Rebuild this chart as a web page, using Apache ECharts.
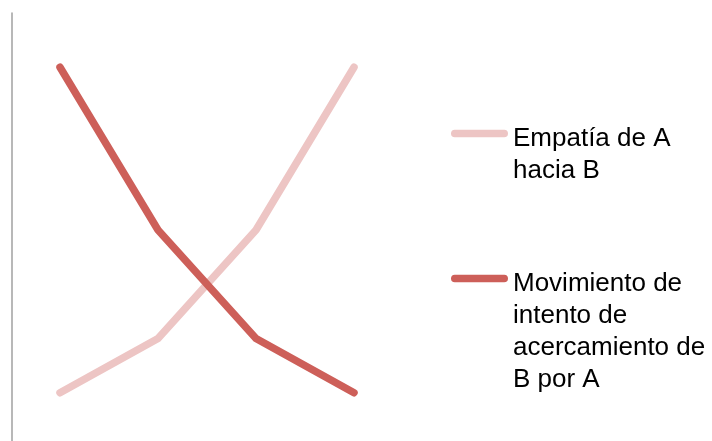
<!DOCTYPE html>
<html>
<head>
<meta charset="utf-8">
<script src="https://cdn.jsdelivr.net/npm/echarts@6/dist/echarts.min.js"></script>
<style>
  html, body { margin: 0; padding: 0; background: #fff; }
  #main { width: 712px; height: 441px; }
</style>
</head>
<body>
<div id="main"></div>
<script>
// datos
var categorias = ['1', '2', '3', '4'];
var empatia = [1, 2, 4, 7];
var movimiento = [7, 4, 2, 1];
var nombres = ['Empatía de A\nhacia B', 'Movimiento de\nintento de\nacercamiento de\nB por A'];

var colorClaro = '#EDC5C4';
var colorOscuro = '#CD5F59';
var lineH = 32;
var iconPath = 'path://M4,0H56A4,4,0,0,1,56,8H4A4,4,0,0,1,4,0Z';

// leyenda: una por serie, con una linea vacia arriba para que
// la primera linea del texto quede a la altura del icono
function leyenda(nombre, color, top) {
    var n = nombre.split('\n').length;
    var hueco = lineH * (n - 1) + 11;
    return {
        data: [nombre],
        orient: 'vertical',
        left: 451,
        top: top,
        padding: 0,
        itemWidth: 57,
        itemHeight: 8,
        icon: iconPath,
        selectedMode: false,
        itemStyle: { color: color, borderWidth: 0 },
        formatter: function (name) {
            return '{s| }\n' + name.split('\n').map(function (l) {
                return '{a|' + l + '}';
            }).join('\n');
        },
        textStyle: {
            rich: {
                s: { fontSize: 10, lineHeight: hueco },
                a: {
                    fontFamily: '"Liberation Sans", Arial, sans-serif',
                    fontSize: 26,
                    lineHeight: lineH,
                    color: '#000'
                }
            }
        }
    };
}

var chart = echarts.init(document.getElementById('main'));
chart.setOption({
    animation: false,
    backgroundColor: '#fff',
    grid: { left: 60, width: 294, top: 13, height: 434, outerBoundsMode: 'none', containLabel: false },
    legend: [
        leyenda(nombres[0], colorClaro, 96.5),
        leyenda(nombres[1], colorOscuro, 209.5)
    ],
    xAxis: {
        type: 'category',
        data: categorias,
        boundaryGap: false,
        show: false
    },
    yAxis: {
        type: 'value',
        min: 0,
        max: 8,
        offset: 48,
        axisLine: { show: true, lineStyle: { color: '#A0A0A0', width: 1.5 } },
        axisTick: { show: false },
        axisLabel: { show: false },
        splitLine: { show: false }
    },
    series: [{
        name: nombres[0],
        type: 'line',
        data: empatia,
        symbol: 'none',
        clip: false,
        itemStyle: { color: colorClaro },
        lineStyle: { color: colorClaro, width: 7.5, cap: 'round', join: 'round' }
    }, {
        name: nombres[1],
        type: 'line',
        data: movimiento,
        symbol: 'none',
        clip: false,
        itemStyle: { color: colorOscuro },
        lineStyle: { color: colorOscuro, width: 7.5, cap: 'round', join: 'round' }
    }]
});
</script>
</body>
</html>
